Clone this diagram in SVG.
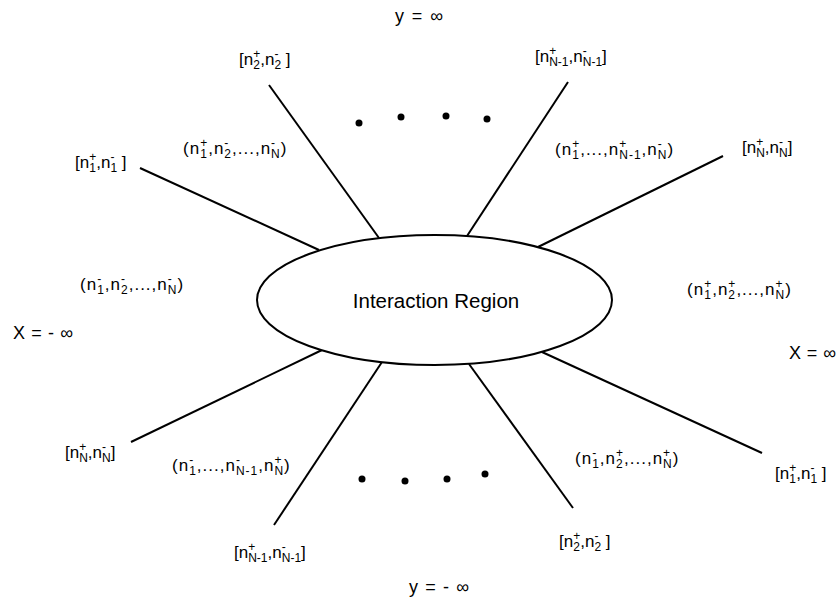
<svg xmlns="http://www.w3.org/2000/svg" width="837" height="601" viewBox="0 0 837 601">
<style>
text{font-family:"Liberation Sans",Arial,sans-serif;fill:#000;font-size:17px}
.s{font-size:12px}
.p{letter-spacing:1px}
.ax{font-size:18px}
.conn line{stroke:#000;stroke-width:2;stroke-linecap:butt}
.dot{fill:#000}
</style>
<rect x="0" y="0" width="837" height="601" fill="#fff"/>
<g id="connectors" class="conn">
<line x1="269" y1="85" x2="379" y2="238"/>
<line x1="568" y1="82" x2="467" y2="236"/>
<line x1="140" y1="168" x2="319" y2="250"/>
<line x1="723" y1="156" x2="538" y2="247"/>
<line x1="131" y1="442" x2="322" y2="350"/>
<line x1="274" y1="525" x2="382" y2="362"/>
<line x1="573" y1="508" x2="469" y2="364"/>
<line x1="762" y1="453" x2="542" y2="352"/>
</g>
<g id="interaction-region">
<ellipse cx="434.5" cy="300" rx="177.5" ry="65" fill="#fff" stroke="#000" stroke-width="2"/>
<text x="436" y="308" text-anchor="middle" style="font-size:20.5px">Interaction Region</text>
</g>
<g id="dots-top">
<circle class="dot" cx="359" cy="123" r="3.5"/>
<circle class="dot" cx="401" cy="117" r="3.5"/>
<circle class="dot" cx="446" cy="116" r="3.5"/>
<circle class="dot" cx="487" cy="119" r="3.5"/>
</g>
<g id="dots-bottom">
<circle class="dot" cx="362" cy="479" r="3.5"/>
<circle class="dot" cx="405" cy="481" r="3.5"/>
<circle class="dot" cx="447" cy="479" r="3.5"/>
<circle class="dot" cx="485" cy="474" r="3.5"/>
</g>
<g id="axis-labels">
<text class="ax" x="395" y="22" textLength="48" lengthAdjust="spacing">y = ∞</text>
<text class="ax" x="409" y="593" textLength="60" lengthAdjust="spacing">y = - ∞</text>
<text class="ax" x="13" y="339" textLength="60" lengthAdjust="spacing">X = - ∞</text>
<text class="ax" x="789" y="359" textLength="47" lengthAdjust="spacing">X = ∞</text>
</g>
<g id="ray-n2-top"><text x="239" y="65">[n<tspan class="s" dy="-7">+</tspan><tspan class="s" dx="-7.01" dy="11">2</tspan><tspan dy="-4" dx="0.34">,n</tspan><tspan class="s" dy="-7">-</tspan><tspan class="s" dx="-4" dy="11">2</tspan><tspan dy="-4"> ]</tspan></text></g>
<g id="ray-nN1-top"><text x="535" y="62">[n<tspan class="s" dy="-7">+</tspan><tspan class="s" dx="-7.01" dy="11">N-1</tspan><tspan dy="-4">,n</tspan><tspan class="s" dy="-7">-</tspan><tspan class="s" dx="-4" dy="11">N-1</tspan><tspan dy="-4">]</tspan></text></g>
<g id="ray-n1-left"><text x="75" y="168">[n<tspan class="s" dy="-7">+</tspan><tspan class="s" dx="-7.01" dy="11">1</tspan><tspan dy="-4" dx="0.34">,n</tspan><tspan class="s" dy="-7">-</tspan><tspan class="s" dx="-4" dy="11">1</tspan><tspan dy="-4"> ]</tspan></text></g>
<g id="ray-nN-right"><text x="742" y="153">[n<tspan class="s" dy="-7">+</tspan><tspan class="s" dx="-7.01" dy="11">N</tspan><tspan dy="-4">,n</tspan><tspan class="s" dy="-7">-</tspan><tspan class="s" dx="-4" dy="11">N</tspan><tspan dy="-4">]</tspan></text></g>
<g id="ray-nN-left"><text x="65" y="458">[n<tspan class="s" dy="-7">+</tspan><tspan class="s" dx="-7.01" dy="11">N</tspan><tspan dy="-4">,n</tspan><tspan class="s" dy="-7">-</tspan><tspan class="s" dx="-4" dy="11">N</tspan><tspan dy="-4">]</tspan></text></g>
<g id="ray-nN1-bottom"><text x="234" y="558">[n<tspan class="s" dy="-7">+</tspan><tspan class="s" dx="-7.01" dy="11">N-1</tspan><tspan dy="-4">,n</tspan><tspan class="s" dy="-7">-</tspan><tspan class="s" dx="-4" dy="11">N-1</tspan><tspan dy="-4">]</tspan></text></g>
<g id="ray-n1-right"><text x="775" y="479">[n<tspan class="s" dy="-7">+</tspan><tspan class="s" dx="-7.01" dy="11">1</tspan><tspan dy="-4" dx="0.34">,n</tspan><tspan class="s" dy="-7">-</tspan><tspan class="s" dx="-4" dy="11">1</tspan><tspan dy="-4"> ]</tspan></text></g>
<g id="ray-n2-bottom"><text x="559" y="547">[n<tspan class="s" dy="-7">+</tspan><tspan class="s" dx="-7.01" dy="11">2</tspan><tspan dy="-4" dx="0.34">,n</tspan><tspan class="s" dy="-7">-</tspan><tspan class="s" dx="-4" dy="11">2</tspan><tspan dy="-4"> ]</tspan></text></g>
<g id="sector-upper-left"><text class="p" x="183" y="154">(n<tspan class="s" dy="-7">+</tspan><tspan class="s" dx="-8.01" dy="11">1</tspan><tspan dy="-4" dx="0.34">,n</tspan><tspan class="s" dy="-7">-</tspan><tspan class="s" dx="-5" dy="11">2</tspan><tspan dy="-4">,...,n</tspan><tspan class="s" dy="-7">-</tspan><tspan class="s" dx="-5" dy="11">N</tspan><tspan dy="-4">)</tspan></text></g>
<g id="sector-upper-right"><text class="p" x="555" y="155">(n<tspan class="s" dy="-7">+</tspan><tspan class="s" dx="-8.01" dy="11">1</tspan><tspan dy="-4" dx="0.34">,...,n</tspan><tspan class="s" dy="-7">+</tspan><tspan class="s" dx="-8.01" dy="11">N-1</tspan><tspan dy="-4">,n</tspan><tspan class="s" dy="-7">-</tspan><tspan class="s" dx="-5" dy="11">N</tspan><tspan dy="-4">)</tspan></text></g>
<g id="sector-left"><text class="p" x="80" y="290">(n<tspan class="s" dy="-7">-</tspan><tspan class="s" dx="-5" dy="11">1</tspan><tspan dy="-4">,n</tspan><tspan class="s" dy="-7">-</tspan><tspan class="s" dx="-5" dy="11">2</tspan><tspan dy="-4">,...,n</tspan><tspan class="s" dy="-7">-</tspan><tspan class="s" dx="-5" dy="11">N</tspan><tspan dy="-4">)</tspan></text></g>
<g id="sector-right"><text class="p" x="687" y="295">(n<tspan class="s" dy="-7">+</tspan><tspan class="s" dx="-8.01" dy="11">1</tspan><tspan dy="-4" dx="0.34">,n</tspan><tspan class="s" dy="-7">+</tspan><tspan class="s" dx="-8.01" dy="11">2</tspan><tspan dy="-4" dx="0.34">,...,n</tspan><tspan class="s" dy="-7">+</tspan><tspan class="s" dx="-8.01" dy="11">N</tspan><tspan dy="-4">)</tspan></text></g>
<g id="sector-lower-left"><text class="p" x="172" y="471">(n<tspan class="s" dy="-7">-</tspan><tspan class="s" dx="-5" dy="11">1</tspan><tspan dy="-4">,...,n</tspan><tspan class="s" dy="-7">-</tspan><tspan class="s" dx="-5" dy="11">N-1</tspan><tspan dy="-4">,n</tspan><tspan class="s" dy="-7">+</tspan><tspan class="s" dx="-8.01" dy="11">N</tspan><tspan dy="-4">)</tspan></text></g>
<g id="sector-lower-right"><text class="p" x="575" y="464">(n<tspan class="s" dy="-7">-</tspan><tspan class="s" dx="-5" dy="11">1</tspan><tspan dy="-4">,n</tspan><tspan class="s" dy="-7">+</tspan><tspan class="s" dx="-8.01" dy="11">2</tspan><tspan dy="-4" dx="0.34">,...,n</tspan><tspan class="s" dy="-7">+</tspan><tspan class="s" dx="-8.01" dy="11">N</tspan><tspan dy="-4">)</tspan></text></g>
</svg>
